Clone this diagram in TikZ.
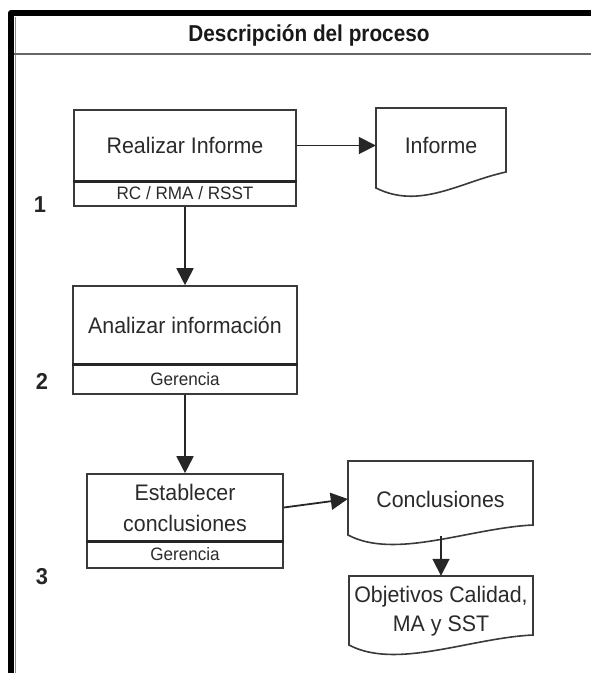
\documentclass[tikz,border=0pt]{standalone}
\usepackage{fontspec}
\setmainfont{Liberation Sans}[FakeStretch=0.95]
\usetikzlibrary{arrows.meta}
\definecolor{linec}{HTML}{3A3A3A}
\definecolor{textc}{HTML}{2A2A2A}
\begin{document}
\begin{tikzpicture}[x=1pt,y=-1pt,
  box/.style={draw=linec, line width=1.6pt, text=textc, inner sep=0pt, font=\fontsize{22.5}{31}\selectfont, align=center},
  subbox/.style={box, font=\fontsize{18}{20}\selectfont},
  doctext/.style={text=textc, inner sep=0pt, font=\fontsize{22.5}{29}\selectfont, align=center},
  docshape/.style={draw=linec, line width=1.6pt, fill=white},
  flow/.style={draw=black!85, line width=1.8pt, -{Triangle[length=17pt,width=17pt]}},
  divider/.style={draw=black!85, line width=2.8pt},
  num/.style={font=\bfseries\fontsize{23}{24}\selectfont, text=black!85}]
\useasboundingbox (0,0) rectangle (591,673);
% frame
\draw[line width=6pt, black, line join=round] (11,673) -- (11,13) -- (591,13);
\draw[black!45, line width=1.2pt] (15.5,673) -- (15.5,16.5);
\draw[black!60, line width=2pt] (14,54) -- (591,54);
\node[font=\bfseries\fontsize{23}{24}\selectfont, text=black!90, anchor=base] (title) at (309,41) {\scalebox{0.95}[1]{Descripción del proceso}};
% numbers
\node[num] (n1) at (40,205) {1};
\node[num] (n2) at (42,381) {2};
\node[num] (n3) at (42,577) {3};
% box 1
\node[box, minimum width=222pt, minimum height=71pt] (b1) at (185,145.5) {Realizar Informe};
\node[subbox, minimum width=222pt, minimum height=25pt] (b1s) at (185,193.5) {RC / RMA / RSST};
\draw[divider] (b1.south west) -- (b1.south east);
% box 2
\node[box, minimum width=224pt, minimum height=78pt] (b2) at (185,325) {Analizar información};
\node[subbox, minimum width=224pt, minimum height=30pt] (b2s) at (185,379) {Gerencia};
\draw[divider] (b2.south west) -- (b2.south east);
% box 3
\node[box, minimum width=196pt, minimum height=67pt] (b3) at (185,507.5) {Establecer\\conclusiones};
\node[subbox, minimum width=196pt, minimum height=27pt] (b3s) at (185,554.5) {Gerencia};
\draw[divider] (b3.south west) -- (b3.south east);
% document Informe
\draw[docshape] (376,108) -- (506,108) -- (506,172) .. controls (460,182) and (420,210) .. (376,188) -- cycle;
\node[doctext, minimum width=130pt] (d1) at (441,145.5) {Informe};
% document Conclusiones
\draw[docshape] (348,461) -- (533,461) -- (533,525) .. controls (470,528) and (395,560) .. (348,535) -- cycle;
\node[doctext, minimum width=185pt] (d2) at (440.5,499) {Conclusiones};
\coordinate (d2b) at (441,536);
% document Objetivos
\draw[docshape] (349,576) -- (533,576) -- (533,635) .. controls (470,638) and (396,670) .. (349,645) -- cycle;
\node[doctext, minimum width=184pt, minimum height=70pt] (d3) at (441,611) {Objetivos Calidad,\\MA y SST};
% connectors
\draw[flow] (b1.east) -- (d1.west);
\draw[flow] (b1s.south) -- (b2.north);
\draw[flow] (b2s.south) -- (b3.north);
\draw[flow] (b3.east) -- (d2.west);
\draw[flow] (d2b) -- (d3.north);
\end{tikzpicture}
\end{document}
